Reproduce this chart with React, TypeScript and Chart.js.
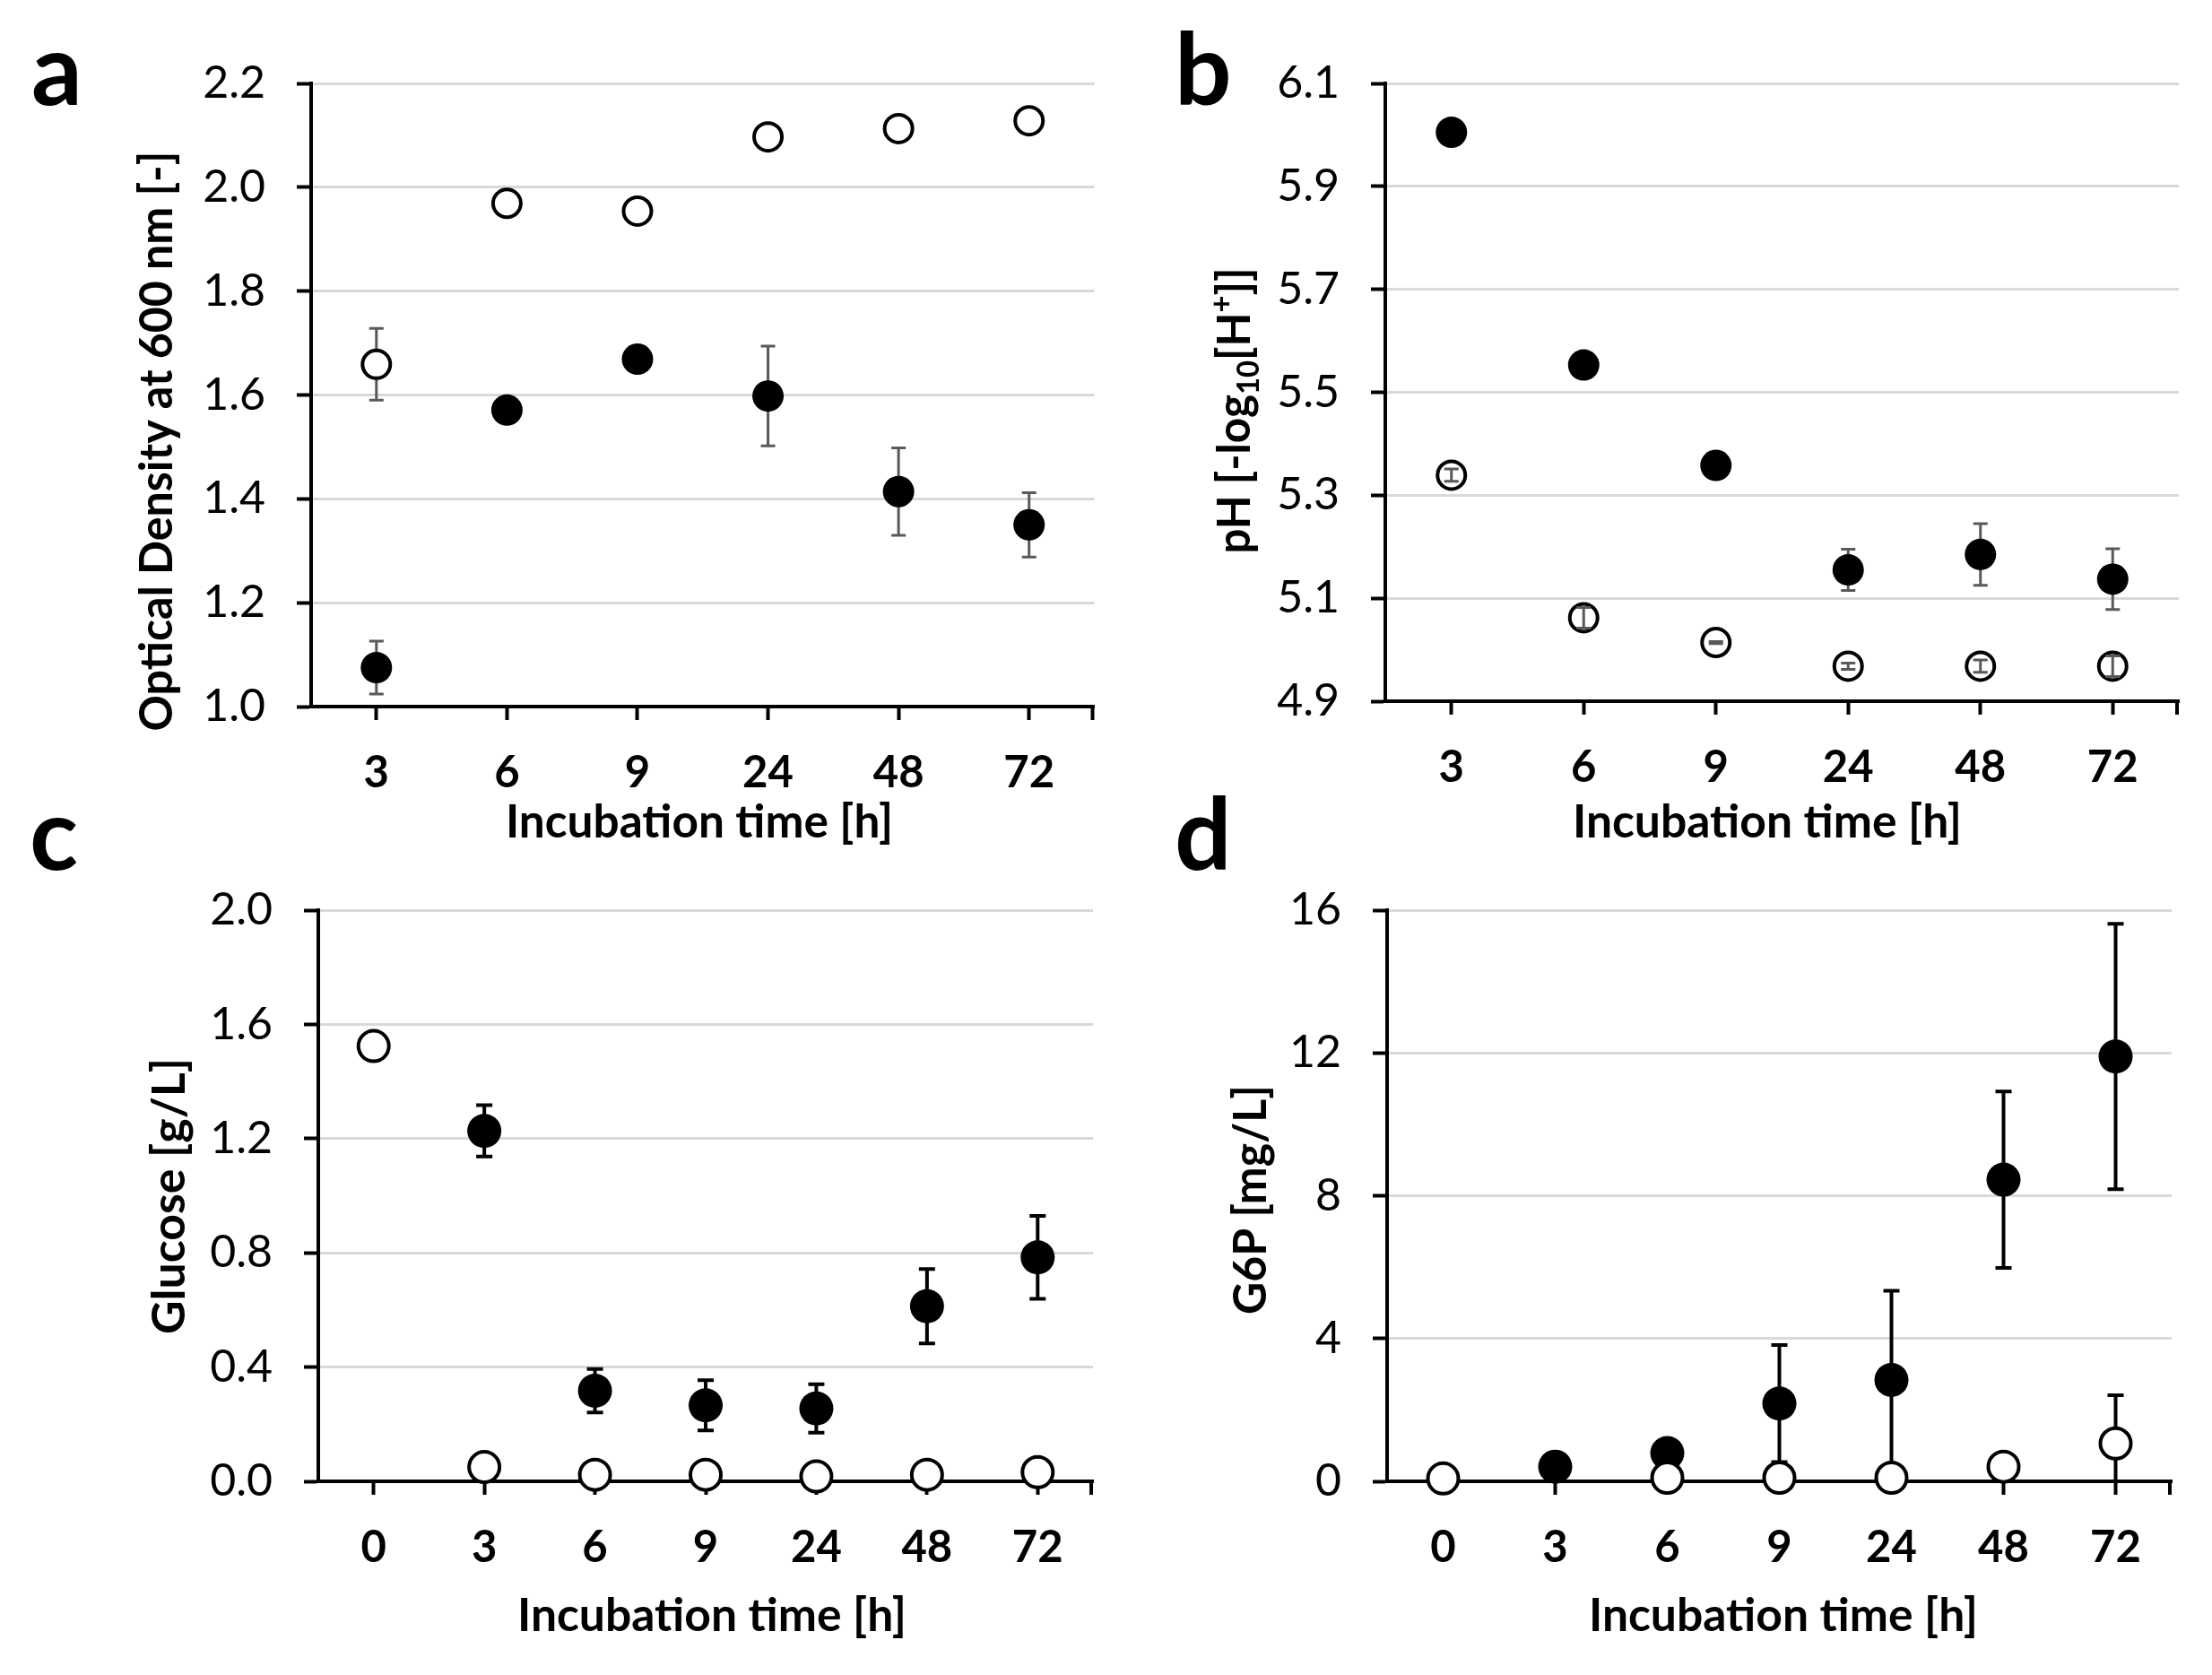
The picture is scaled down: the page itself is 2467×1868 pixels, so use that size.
import React, { useEffect, useRef } from 'react';
import { Chart, registerables } from 'chart.js';

Chart.register(...registerables);

const FONT = 'Lato, "Open Sans", sans-serif';

// ---------- Data ----------
// Panel a: Optical density at 600 nm
const timesA = ['3', '6', '9', '24', '48', '72'];
const odFilled = [1.075, 1.571, 1.669, 1.598, 1.414, 1.35];
const odFilledErr = [0.051, 0, 0, 0.096, 0.084, 0.062];
const odOpen = [1.659, 1.969, 1.954, 2.097, 2.113, 2.128];
const odOpenErr = [0.069, 0, 0, 0, 0, 0];

// Panel b: pH
const timesB = ['3', '6', '9', '24', '48', '72'];
const phFilled = [6.005, 5.553, 5.358, 5.155, 5.185, 5.137];
const phFilledErr = [0, 0, 0, 0.04, 0.06, 0.059];
const phOpen = [5.339, 5.062, 5.014, 4.968, 4.968, 4.968];
const phOpenErr = [0.012, 0.02, 0.002, 0.006, 0.012, 0.02];

// Panel c: Glucose
const timesC = ['0', '3', '6', '9', '24', '48', '72'];
const gluFilled = [null, 1.227, 0.317, 0.266, 0.255, 0.613, 0.784];
const gluFilledErr = [0, 0.09, 0.076, 0.088, 0.085, 0.13, 0.145];
const gluOpen = [1.524, 0.05, 0.023, 0.023, 0.017, 0.023, 0.032];
const gluOpenErr = [0, 0, 0, 0, 0, 0, 0];

// Panel d: G6P
const timesD = ['0', '3', '6', '9', '24', '48', '72'];
const g6pFilled = [null, 0.41, 0.79, 2.18, 2.84, 8.45, 11.9];
const g6pFilledErr = [0, 0.1, 0.1, 1.64, 2.5, 2.47, 3.72];
const g6pOpen = [0.08, null, 0.1, 0.1, 0.1, 0.41, 1.06];
const g6pOpenErr = [0, 0, 0, 0, 0, 0.05, 1.35];

// ---------- Types ----------
type Run = { text: string; size: number; weight: string; dy?: number };
type Spec = {
  rect: { x: number; y: number; w: number; h: number };
  area: { left: number; top: number; right: number; bottom: number };
  labels: string[];
  filled: (number | null)[];
  filledErr: number[];
  open: (number | null)[];
  openErr: number[];
  openBarsOnTop: boolean;
  yMin: number;
  yMax: number;
  yStep: number;
  decimals: number;
  radius: number;
  errColor: string;
  errWidth: number;
  cap: number;
  letter: { text: string; x: number; y: number };
  xTitle: { runs: Run[]; cx: number; baseline: number; length: number };
  yTitle: { runs: Run[]; baseline: number; cy: number; length: number };
};

const T = 51; // title font size
const bold = (text: string, size = T, dy = 0): Run => ({ text, size, weight: 'bold', dy });
const xTitleRuns = [bold('Incubation time [h]')];

const specs: Spec[] = [
  {
    rect: { x: 0, y: 0, w: 1240, h: 960 },
    area: { left: 347, top: 93, right: 1231, bottom: 788 },
    labels: timesA,
    filled: odFilled,
    filledErr: odFilledErr,
    open: odOpen,
    openErr: odOpenErr,
    openBarsOnTop: false,
    yMin: 1.0,
    yMax: 2.2,
    yStep: 0.2,
    decimals: 1,
    radius: 17.5,
    errColor: '#595959',
    errWidth: 3,
    cap: 8,
    letter: { text: 'a', x: 35, y: 117 },
    xTitle: { runs: xTitleRuns, cx: 780, baseline: 934, length: 432 },
    yTitle: { runs: [bold('Optical Density at 600 nm [-]')], baseline: 192, cy: 492, length: 647 },
  },
  {
    rect: { x: 1240, y: 0, w: 1227, h: 960 },
    area: { left: 1545, top: 93, right: 2430, bottom: 782 },
    labels: timesB,
    filled: phFilled,
    filledErr: phFilledErr,
    open: phOpen,
    openErr: phOpenErr,
    openBarsOnTop: true,
    yMin: 4.9,
    yMax: 6.1,
    yStep: 0.2,
    decimals: 1,
    radius: 17.5,
    errColor: '#595959',
    errWidth: 3,
    cap: 8,
    letter: { text: 'b', x: 1310, y: 117 },
    xTitle: { runs: xTitleRuns, cx: 1971, baseline: 934, length: 434 },
    yTitle: {
      runs: [bold('pH [-log'), bold('10', 34, 10), bold('[H'), bold('+', 34, -20), bold(']]')],
      baseline: 1394,
      cy: 458,
      length: 319,
    },
  },
  {
    rect: { x: 0, y: 880, w: 1240, h: 988 },
    area: { left: 355, top: 1015, right: 1231, bottom: 1652 },
    labels: timesC,
    filled: gluFilled,
    filledErr: gluFilledErr,
    open: gluOpen,
    openErr: gluOpenErr,
    openBarsOnTop: false,
    yMin: 0,
    yMax: 2.0,
    yStep: 0.4,
    decimals: 1,
    radius: 19,
    errColor: '#000000',
    errWidth: 4,
    cap: 9,
    letter: { text: 'c', x: 33, y: 970 },
    xTitle: { runs: xTitleRuns, cx: 794, baseline: 1819, length: 434 },
    yTitle: { runs: [bold('Glucose [g/L]')], baseline: 206, cy: 1334, length: 308 },
  },
  {
    rect: { x: 1240, y: 880, w: 1227, h: 988 },
    area: { left: 1547, top: 1015, right: 2422, bottom: 1652 },
    labels: timesD,
    filled: g6pFilled,
    filledErr: g6pFilledErr,
    open: g6pOpen,
    openErr: g6pOpenErr,
    openBarsOnTop: false,
    yMin: 0,
    yMax: 16,
    yStep: 4,
    decimals: 0,
    radius: 19,
    errColor: '#000000',
    errWidth: 4,
    cap: 9,
    letter: { text: 'd', x: 1310, y: 970 },
    xTitle: { runs: xTitleRuns, cx: 1989, baseline: 1819, length: 434 },
    yTitle: { runs: [bold('G6P [mg/L]')], baseline: 1412, cy: 1338, length: 256 },
  },
];

function drawRuns(
  ctx: CanvasRenderingContext2D,
  runs: Run[],
  x: number,
  y: number,
  length: number,
  rotate: boolean
) {
  const widths: number[] = [];
  let total = 0;
  for (const r of runs) {
    ctx.font = `${r.weight} ${r.size}px ${FONT}`;
    const w = ctx.measureText(r.text).width;
    widths.push(w);
    total += w;
  }
  const sx = length / total;
  ctx.save();
  ctx.translate(x, y);
  if (rotate) ctx.rotate(-Math.PI / 2);
  ctx.scale(sx, 1);
  ctx.fillStyle = '#000';
  ctx.textAlign = 'left';
  ctx.textBaseline = 'alphabetic';
  let cx = -total / 2;
  runs.forEach((r, i) => {
    ctx.font = `${r.weight} ${r.size}px ${FONT}`;
    ctx.fillText(r.text, cx, r.dy || 0);
    cx += widths[i];
  });
  ctx.restore();
}

function Panel({ spec }: { spec: Spec }) {
  const ref = useRef<HTMLCanvasElement | null>(null);

  useEffect(() => {
    const s = spec;
    const ox = s.rect.x;
    const oy = s.rect.y;
    const canvas = ref.current;
    if (!canvas) return;

    const drawBars = (chart: any, index: number, meta: any) => {
      const ds: any = chart.data.datasets[index];
      const errs: number[] = ds.errors;
      if (!errs) return;
      const ctx: CanvasRenderingContext2D = chart.ctx;
      const area = chart.chartArea;
      const ys = chart.scales.y;
      ctx.save();
      ctx.beginPath();
      ctx.rect(area.left - 20, 0, area.right - area.left + 40, area.bottom);
      ctx.clip();
      ctx.strokeStyle = s.errColor;
      ctx.lineWidth = s.errWidth;
      ctx.lineCap = 'butt';
      meta.data.forEach((pt: any, i: number) => {
        const v = ds.data[i];
        const e = errs[i];
        if (v == null || !e) return;
        const x = pt.x;
        const yt = ys.getPixelForValue(v + e);
        const yb = ys.getPixelForValue(v - e);
        ctx.beginPath();
        ctx.moveTo(x, yt);
        ctx.lineTo(x, yb);
        ctx.moveTo(x - s.cap, yt);
        ctx.lineTo(x + s.cap, yt);
        ctx.moveTo(x - s.cap, yb);
        ctx.lineTo(x + s.cap, yb);
        ctx.stroke();
      });
      ctx.restore();
    };

    const errPlugin = {
      id: 'errbars',
      beforeDatasetDraw(chart: any, args: any) {
        const ds: any = chart.data.datasets[args.index];
        if (!ds.barsOnTop) drawBars(chart, args.index, args.meta);
      },
      afterDatasetDraw(chart: any, args: any) {
        const ds: any = chart.data.datasets[args.index];
        if (ds.barsOnTop) drawBars(chart, args.index, args.meta);
      },
    };

    const decoPlugin = {
      id: 'deco',
      afterDraw(chart: any) {
        const ctx: CanvasRenderingContext2D = chart.ctx;
        const area = chart.chartArea;
        // right-end tick mark of the x axis
        ctx.save();
        ctx.strokeStyle = '#000';
        ctx.lineWidth = 4;
        ctx.beginPath();
        ctx.moveTo(area.right - 2, area.bottom);
        ctx.lineTo(area.right - 2, area.bottom + 15);
        ctx.stroke();
        ctx.restore();
        // panel letter
        ctx.save();
        ctx.fillStyle = '#000';
        ctx.font = `bold 112px ${FONT}`;
        ctx.textAlign = 'left';
        ctx.textBaseline = 'alphabetic';
        ctx.fillText(s.letter.text, s.letter.x - ox, s.letter.y - oy);
        ctx.restore();
        // axis titles
        drawRuns(ctx, s.xTitle.runs, s.xTitle.cx - ox, s.xTitle.baseline - oy, s.xTitle.length, false);
        drawRuns(ctx, s.yTitle.runs, s.yTitle.baseline - ox, s.yTitle.cy - oy, s.yTitle.length, true);
      },
    };

    const chart = new Chart(canvas, {
      type: 'line',
      data: {
        labels: s.labels,
        datasets: [
          {
            label: 'open',
            data: s.open as any,
            errors: s.openErr,
            barsOnTop: s.openBarsOnTop,
            showLine: false,
            pointStyle: 'circle',
            pointRadius: s.radius - 2,
            pointBorderWidth: 4,
            pointBackgroundColor: '#ffffff',
            pointBorderColor: '#000000',
            clip: false,
          } as any,
          {
            label: 'filled',
            data: s.filled as any,
            errors: s.filledErr,
            barsOnTop: false,
            showLine: false,
            pointStyle: 'circle',
            pointRadius: s.radius,
            pointBorderWidth: 0,
            pointBackgroundColor: '#000000',
            pointBorderColor: '#000000',
            clip: false,
          } as any,
        ],
      },
      options: {
        responsive: false,
        animation: false,
        devicePixelRatio: 1,
        events: [],
        layout: {
          padding: {
            left: 0,
            top: s.area.top - oy,
            right: ox + s.rect.w - s.area.right,
            bottom: 0,
          },
        },
        plugins: {
          legend: { display: false },
          tooltip: { enabled: false },
          title: { display: false },
        },
        scales: {
          x: {
            type: 'category',
            offset: true,
            grid: {
              display: true,
              drawOnChartArea: false,
              drawTicks: true,
              tickLength: 15,
              tickColor: '#000',
              tickWidth: 4,
              offset: false,
            },
            border: { display: true, color: '#000', width: 4 },
            ticks: {
              autoSkip: false,
              maxRotation: 0,
              minRotation: 0,
              color: '#000',
              padding: 30,
              font: { family: FONT, size: 49, weight: 'bold' },
            },
            afterFit: (sc: any) => {
              sc.height = oy + s.rect.h - s.area.bottom;
            },
          },
          y: {
            type: 'linear',
            min: s.yMin,
            max: s.yMax,
            grid: {
              color: '#d9d9d9',
              lineWidth: 3,
              drawTicks: true,
              tickLength: 16,
              tickColor: '#000',
              tickWidth: 4,
            },
            border: { display: true, color: '#000', width: 4 },
            ticks: {
              stepSize: s.yStep,
              color: '#000',
              padding: 35,
              font: { family: FONT, size: 50, weight: 'normal' },
              callback: (v: any) => Number(v).toFixed(s.decimals),
            },
            afterFit: (sc: any) => {
              sc.width = s.area.left - ox;
            },
          },
        },
      } as any,
      plugins: [errPlugin as any, decoPlugin as any],
    });

    return () => {
      chart.destroy();
    };
  }, [spec]);

  return (
    <canvas
      ref={ref}
      width={spec.rect.w}
      height={spec.rect.h}
      style={{
        position: 'absolute',
        left: spec.rect.x,
        top: spec.rect.y,
        width: spec.rect.w,
        height: spec.rect.h,
      }}
    />
  );
}

export default function App() {
  return (
    <div
      style={{
        position: 'absolute',
        left: 0,
        top: 0,
        width: 2467,
        height: 1868,
        background: '#ffffff',
        overflow: 'hidden',
      }}
    >
      {specs.map((s, i) => (
        <Panel key={i} spec={s} />
      ))}
    </div>
  );
}
